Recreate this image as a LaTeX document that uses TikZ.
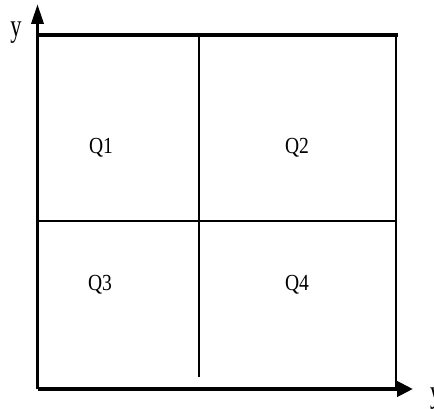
\documentclass[tikz,border=0pt]{standalone}
\usepackage{fontspec}
\setmainfont{Liberation Serif}
\usetikzlibrary{arrows.meta}

\begin{document}
\begin{tikzpicture}[
  x=1pt, y=-1pt,
  axis/.style={line width=3.5pt},
  frame/.style={line width=2.5pt},
  split/.style={line width=1.5pt},
  quad/.style={font=\fontsize{23}{25}\selectfont, xscale=0.85, inner sep=0pt},
  axlabel/.style={font=\fontsize{32}{34}\selectfont, xscale=0.7, inner sep=0pt},
]
  \useasboundingbox (0,0) rectangle (434,409);

  % corners of the square
  \coordinate (o) at (37.5,389);
  \coordinate (tl) at (37.5,35);
  \coordinate (tr) at (396,35);
  \coordinate (br) at (396,389);
  \coordinate (ml) at (37.5,221);
  \coordinate (mr) at (396,221);
  \coordinate (mt) at (199,35);
  \coordinate (mb) at (199,377);
  \coordinate (ytip) at (37.5,4);
  \coordinate (xtip) at (413,389);

  % axes
  \draw[axis, -{Triangle[length=20pt, width=12pt]}] (o) -- (ytip);
  \draw[axis, line width=4pt, -{Triangle[length=16pt, width=15pt]}] (o) -- (xtip);

  % frame
  \draw[axis] (tl) -- ([xshift=1.5pt]tr);
  \draw[frame] (tr) -- (br);

  % quadrant split
  \draw[frame] (ml) -- (mr);
  \draw[split] (mt) -- (mb);

  % labels
  \node[axlabel] (ylab) at (16,33) {y};
  \node[axlabel, anchor=north west] (xlab) at (430,388) {y};

  \node[quad] (q1) at (101,148) {Q1};
  \node[quad] (q2) at (297,148) {Q2};
  \node[quad] (q3) at (100,285) {Q3};
  \node[quad] (q4) at (297,285) {Q4};
\end{tikzpicture}
\end{document}
